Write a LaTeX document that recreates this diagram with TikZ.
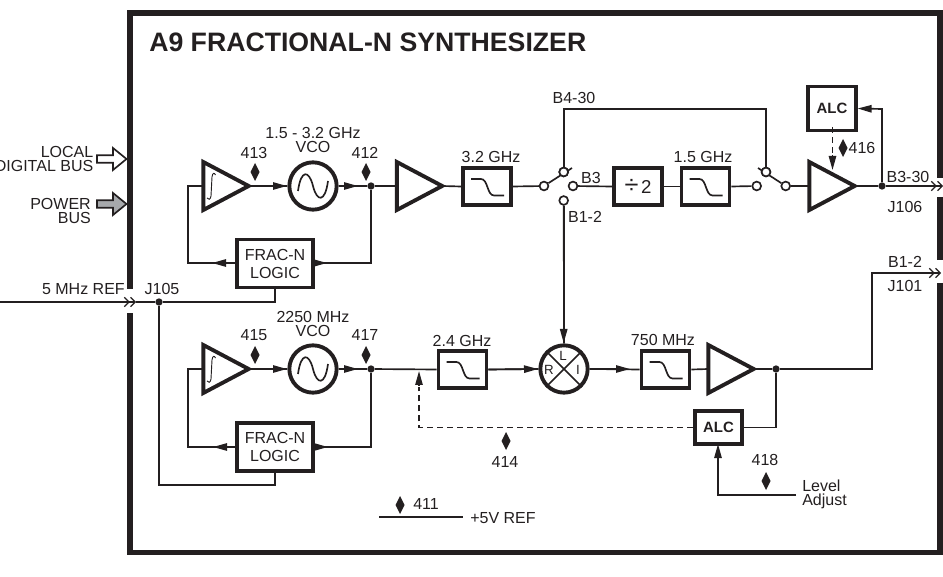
\documentclass[tikz,border=0pt]{standalone}
\usepackage{fontspec}
\setmainfont{Liberation Sans}
\usetikzlibrary{arrows.meta,shapes.geometric,calc}
\definecolor{ink}{HTML}{231F20}
\definecolor{busgray}{HTML}{A7A9AC}
\tikzset{
  wire/.style={line width=1.25pt,color=ink},
  wa/.style={wire,-{Triangle[length=10.5pt,width=5.5pt]}},
  wb/.style={wire,-{Straight Barb[length=3.5pt,width=7pt,line width=.9pt]Straight Barb[length=3.5pt,width=7pt,line width=.9pt]}},
  dashw/.style={wire,dash pattern=on 4.5pt off 3pt},
  frameline/.style={line width=4.1pt,color=ink,line join=miter},
  heavy/.style={line width=2.9pt,color=ink,line join=miter},
  fbox/.style={draw,heavy,inner sep=0pt,minimum width=36pt,minimum height=28pt,align=center,text=ink,font=\fontsize{12}{13.5}\selectfont},
  logic/.style={fbox,minimum width=57.5pt,minimum height=36pt},
  alcbox/.style={fbox,minimum width=35.5pt,font=\fontsize{11.2}{12}\bfseries\selectfont},
  roundsym/.style={circle,draw,heavy,inner sep=0pt,minimum size=35.5pt},
  ampbox/.style={inner sep=0pt,outer sep=0pt,minimum width=34pt,minimum height=36pt},
  txt/.style={inner sep=0pt,text=ink,font=\fontsize{12}{10.5}\selectfont},
  small/.style={txt,font=\fontsize{10}{10.5}\selectfont},
  dot/.style={circle,fill=ink,inner sep=0pt,minimum size=5.5pt},
  contact/.style={circle,draw=ink,fill=white,line width=1.25pt,inner sep=0pt,minimum size=6.6pt},
}
\newcommand\ampsym[3]{\node[ampbox] (#1) at (#2,#3) {};
  \draw[heavy] (#1.north west) -- (#1.east) -- (#1.south west) -- cycle;}
\newcommand\lpfsym[1]{\draw[wire,shift={(#1.center)}] (-16,-7.5) -- (-6,-7.5) .. controls (1,-7.5) and (0,9) .. (7,9) -- (17,9);}
\newcommand\sinesym[1]{\draw[wire,shift={(#1.center)}] (-15,5) .. controls (-12,-17) and (-4,-16) .. (0,0) .. controls (4,16) and (12,17) .. (15,-5);}
\newcommand\intsym[1]{\draw[ink,line width=.7pt,shift={(#1.center)}] (-19,12) .. controls (-18,14) and (-15.5,14) .. (-15,10) -- (-14,-9) .. controls (-13.5,-13.5) and (-11.5,-13.5) .. (-10.5,-11);}
\newcommand\tpmark[2]{\fill[ink] (#1,#2-9) -- (#1+4.5,#2) -- (#1,#2+9) -- (#1-4.5,#2) -- cycle;}
\newcommand\busarrow[3]{\draw[wire,fill=#3] (97,#2-3.7) -- (113,#2-3.7) -- (113,#2-11) -- (126.5,#2) -- (113,#2+11) -- (113,#2+3.7) -- (97,#2+3.7) -- cycle;}
\begin{document}
\begin{tikzpicture}[x=0.75pt,y=-0.75pt]
\useasboundingbox (0,0) rectangle (943,577);
% frame
\draw[frameline] (130,289) -- (130,13) -- (940,13) -- (940,178);
\draw[frameline] (940,197) -- (940,260);
\draw[frameline] (940,283) -- (940,552.5) -- (130,552.5) -- (130,313);
\node[anchor=base west,inner sep=0pt,text=ink,font=\fontsize{20}{22}\bfseries\selectfont] (title) at (149,52) {A9 FRACTIONAL-N SYNTHESIZER};
% left side
\node[txt,anchor=east,align=right] (localbus) at (93.5,159) {LOCAL\\DIGITAL BUS};
\busarrow{open}{159}{white}
\node[txt,anchor=east,align=right] (powerbus) at (91,211) {POWER\\BUS};
\busarrow{gray}{204}{busgray}
\node[txt,anchor=east] (refl) at (125,289) {5 MHz REF};
\node[txt] (j105) at (162,289) {J105};
% upper row
\ampsym{ia}{226}{186}
\intsym{ia}
\node[roundsym] (vco1) at (313,186) {};
\sinesym{vco1}
\node[dot] (j1) at (371,186) {};
\ampsym{a1}{419.5}{186}
\node[fbox] (f1) at (487,186.5) {};
\lpfsym{f1}
\node[contact] (s1l) at (544,186) {};
\node[contact] (s1r) at (573,186) {};
\node[contact] (s1t) at (563.7,172) {};
\node[contact] (s1b) at (563.7,200.5) {};
\coordinate (s1e) at (572,168);
\node[fbox] (div) at (638,186.5) {{\fontsize{19}{19}\selectfont ÷}\,{\fontsize{14}{14}\selectfont 2}};
\node[fbox] (f2) at (705.5,186.5) {};
\lpfsym{f2}
\node[contact] (s2l) at (756.7,186) {};
\node[contact] (s2r) at (785.7,186) {};
\node[contact] (s2t) at (766,172) {};
\coordinate (s2e) at (758,168);
\ampsym{a2}{832}{186}
\node[alcbox,minimum height=33pt] (alc1) at (832,108.5) {ALC};
\node[dot] (j2) at (882,186) {};
\coordinate (out1) at (943,186);
\coordinate (alc1r) at (882,109);
\coordinate (a2top) at (832.5,170);
\coordinate (alc1b) at (832.5,127);
\coordinate (b4l) at (563.7,109);
\coordinate (b4r) at (766,109);
% upper wires
\draw[wire] (ia.east) -- (vco1.west);
\draw[wa] (ia.east) -- (287,186);
\draw[wire] (vco1.east) -- (j1);
\draw[wa] (vco1.east) -- (358,186);
\draw[wire] (j1) -- (a1.west);
\draw[wire] (a1.east) -- (f1.west);
\draw[wire] (f1.east) -- (s1l);
\draw[wire] (s1l) -- (s1e);
\draw[wire] (s1r) -- (div.west);
\draw[wire] (div.east) -- (f2.west);
\draw[wire] (f2.east) -- (s2l);
\draw[wire] (s2r) -- (s2e);
\draw[wire] (s2r) -- (a2.west);
\draw[wire] (a2.east) -- (j2);
\draw[wb] (j2) -- (out1);
\draw[wire] (s1t) -- (b4l) -- (b4r) -- (s2t);
\draw[wa] (j2) -- (alc1r) -- (alc1.east);
\draw[dashw] (alc1b) -- (832.5,157);
\draw[wa] (832.5,155) -- (a2top);
\node[contact] at (s1t) {};
\node[contact] at (s2t) {};
% frac-n upper
\node[logic] (fn1) at (275,263.5) {FRAC-N\\LOGIC};
\coordinate (fn1il) at (188,186);
\coordinate (fn1l) at (188,263);
\draw[wire] (ia.west) -- (fn1il) -- (fn1l) -- (fn1.west |- fn1l);
\draw[wa] (fn1.west |- fn1l) -- (212,263);
\draw[wire] (j1) -- (371,263) -- (fn1.east |- 0,263);
\draw[wa] (fn1.east |- 0,263) -- (327,263);
% ref
\coordinate (ref0) at (0,302);
\coordinate (reft) at (136,302);
\node[dot] (j3) at (159,302) {};
\coordinate (fn1b) at (275,302);
\draw[wire] (reft) -- (j3) -- (fn1b) -- (fn1.south);
\draw[wb] (ref0) -- (reft);
% lower row
\ampsym{ib}{226}{369}
\intsym{ib}
\node[roundsym] (vco2) at (313,369) {};
\sinesym{vco2}
\node[dot] (j4) at (371,369) {};
\node[fbox] (f3) at (462.5,369.5) {};
\lpfsym{f3}
\node[roundsym] (mx) at (564,369) {};
\draw[wire] (mx.45) -- (mx.225);
\draw[wire] (mx.135) -- (mx.315);
\node[small] (mxl) at (563,356) {L};
\node[small] (mxr) at (549,370) {R};
\node[small] (mxi) at (578,370) {I};
\node[fbox] (f4) at (665.5,369.5) {};
\lpfsym{f4}
\ampsym{a3}{731}{369}
\node[dot] (j5) at (776,369) {};
\node[alcbox,minimum height=25pt] (alc2) at (718.5,427.5) {ALC};
\node[logic] (fn2) at (275,447) {FRAC-N\\LOGIC};
% lower wires
\draw[wire] (ib.east) -- (vco2.west);
\draw[wa] (ib.east) -- (287,369);
\draw[wire] (vco2.east) -- (j4);
\draw[wa] (vco2.east) -- (358,369);
\draw[wire] (j4) -- (f3.west);
\draw[wire] (f3.east) -- (mx.west);
\draw[wa] (f3.east) -- (538,369);
\draw[wire] (mx.east) -- (f4.west);
\draw[wa] (mx.east) -- (630,369);
\draw[wire] (f4.east) -- (a3.west);
\draw[wire] (a3.east) -- (j5);
\draw[wb] (j5) -- (872,369) -- (872,273) -- (941,273);
\draw[wire] (s1b) -- (mx.north);
\draw[wa] (s1b) -- (563.7,343);
\draw[wire] (alc2.east) -- (776,427.5) -- (j5);
\draw[dashw] (alc2.west) -- (419,427.5) -- (419,387);
\draw[wa] (419,385) -- (419,371);
\coordinate (lvl) at (796,495);
\draw[wa] (lvl) -- (718,495) -- (718,444);
\draw[wire] (ib.west) -- (188,369) -- (188,447) -- (fn2.west);
\draw[wa] (fn2.west) -- (213,447);
\draw[wire] (j4) -- (371,447) -- (fn2.east);
\draw[wa] (fn2.east) -- (328,447);
\draw[wire] (j3) -- (159,485) -- (275,485) -- (fn2.south);
% +5V
\coordinate (v5a) at (379,517);
\coordinate (v5b) at (463,517);
\draw[wire] (v5a) -- (v5b);
% test points
\tpmark{255}{172}
\tpmark{366}{172}
\tpmark{843}{148}
\tpmark{255}{355}
\tpmark{366}{355}
\tpmark{506}{441}
\tpmark{766}{481}
\tpmark{400}{505}
% labels
\node[txt] (t413) at (254,153) {413};
\node[txt] (t412) at (365,153) {412};
\node[txt,align=center] (tvco1) at (313,140) {1.5 - 3.2 GHz\\VCO};
\node[txt] (t32) at (491,157) {3.2 GHz};
\node[txt] (t15) at (703,157) {1.5 GHz};
\node[txt] (tb430) at (574,98) {B4-30};
\node[txt] (tb3) at (591,178) {B3};
\node[txt] (tb12) at (585,217) {B1-2};
\node[txt] (t416) at (862,148) {416};
\node[txt] (tb330) at (908,177) {B3-30};
\node[txt] (tj106) at (905,207) {J106};
\node[txt] (tb12o) at (905,262) {B1-2};
\node[txt] (tj101) at (905,286) {J101};
\node[txt,align=center] (tvco2) at (313,323.5) {2250 MHz\\VCO};
\node[txt] (t415) at (254,335) {415};
\node[txt] (t417) at (365,335) {417};
\node[txt] (t24) at (462,341) {2.4 GHz};
\node[txt] (t750) at (663,340) {750 MHz};
\node[txt] (t414) at (505,462) {414};
\node[txt] (t418) at (765,460) {418};
\node[txt,anchor=west,align=left] (tlvl) at (802,494) {Level\\Adjust};
\node[txt] (t411) at (426,504) {411};
\node[txt,anchor=west] (t5v) at (470,518) {+5V REF};
\end{tikzpicture}
\end{document}
